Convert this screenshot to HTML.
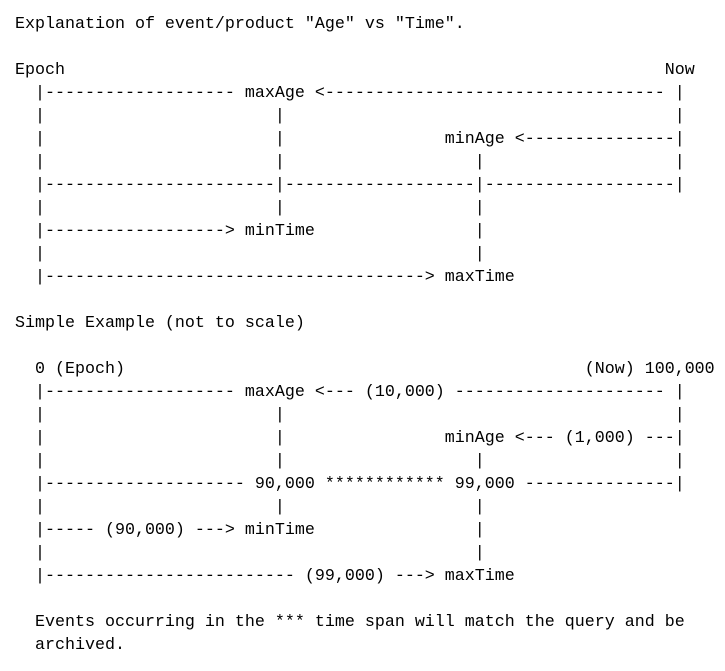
<!DOCTYPE html>
<html><head><meta charset="utf-8"><style>
html,body{margin:0;padding:0;background:#fff;width:725px;height:671px;overflow:hidden}
pre{position:absolute;left:15px;top:12.5px;margin:0;font-family:"Liberation Mono",monospace;font-size:16.67px;line-height:23px;color:#000}
</style></head><body><pre>Explanation of event/product "Age" vs "Time".

Epoch                                                            Now
  |------------------- maxAge <---------------------------------- |
  |                       |                                       |
  |                       |                minAge <---------------|
  |                       |                   |                   |
  |-----------------------|-------------------|-------------------|
  |                       |                   |
  |------------------> minTime                |
  |                                           |
  |--------------------------------------> maxTime

Simple Example (not to scale)

  0 (Epoch)                                              (Now) 100,000
  |------------------- maxAge <--- (10,000) --------------------- |
  |                       |                                       |
  |                       |                minAge <--- (1,000) ---|
  |                       |                   |                   |
  |-------------------- 90,000 ************ 99,000 ---------------|
  |                       |                   |
  |----- (90,000) ---> minTime                |
  |                                           |
  |------------------------- (99,000) ---> maxTime

  Events occurring in the *** time span will match the query and be
  archived.</pre></body></html>
